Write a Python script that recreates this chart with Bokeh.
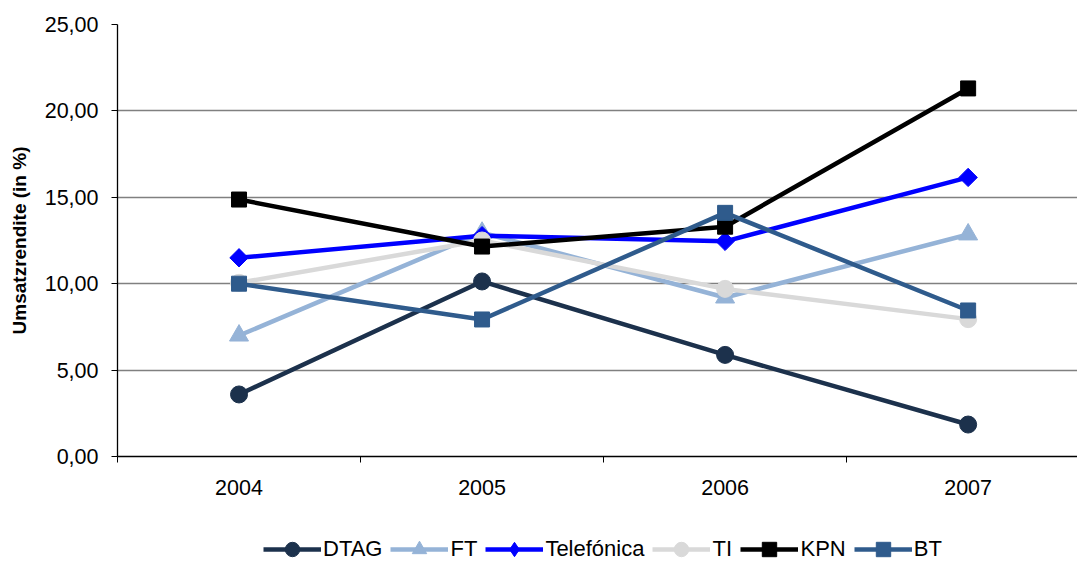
from bokeh.plotting import figure
from bokeh.models import Range1d, FixedTicker, Legend, LegendItem
from bokeh.layouts import column
from bokeh.embed import file_html
from bokeh.resources import INLINE
import math

years = [2004, 2005, 2006, 2007]
series_names = ["DTAG", "FT", "Telefónica", "TI", "KPN", "BT"]
dtag = [3.59, 10.13, 5.88, 1.85]
ft = [7.00, 12.95, 9.20, 12.85]
telefonica = [11.50, 12.78, 12.45, 16.15]
ti = [10.05, 12.50, 9.70, 7.95]
kpn = [14.87, 12.15, 13.30, 21.30]
bt = [10.00, 7.93, 14.10, 8.45]
y_ticks = [0, 5, 10, 15, 20, 25]
y_tick_labels = ["0,00", "5,00", "10,00", "15,00", "20,00", "25,00"]
y_title = "Umsatzrendite (in %)"

values = [dtag, ft, telefonica, ti, kpn, bt]
colors = ["#1c314c", "#95b3d7", "#0000ff", "#d9d9d9", "#000000", "#2f5b8c"]
markers = ["circle", "triangle", "square", "circle", "square", "square"]
legend_markers = ["circle", "triangle", "diamond", "circle", "square", "square"]
angles = [0, 0, math.pi / 4, 0, 0, 0]
msizes = [17, 19, 13, 17, 15, 15]

FONT = "Liberation Sans"
TOP_H = 521
LEG_H = 561 - TOP_H
FRAME_LEFT = 117

p = figure(width=1077, height=TOP_H, output_backend="svg", toolbar_location=None,
           x_range=Range1d(2003.5, 2007.45), y_range=Range1d(0, 25),
           min_border_left=FRAME_LEFT, min_border_top=24, min_border_right=0,
           min_border_bottom=TOP_H - 456)
p.outline_line_color = None
p.background_fill_color = "white"
p.border_fill_color = "white"

# x axis
p.xaxis.ticker = FixedTicker(ticks=years, minor_ticks=[2003.5, 2004.5, 2005.5, 2006.5, 2007.5])
p.xaxis.major_tick_out = 0
p.xaxis.major_tick_in = 0
p.xaxis.minor_tick_out = 6
p.xaxis.minor_tick_in = 0
p.xaxis.minor_tick_line_color = "black"
p.xaxis.axis_line_color = "black"
p.xaxis.axis_line_width = 1.3
p.xaxis.major_label_standoff = 17
p.xaxis.major_label_text_font = FONT
p.xaxis.major_label_text_font_size = "21.5px"
p.xaxis.major_label_text_color = "black"
p.xgrid.grid_line_color = None

# y axis
p.yaxis.ticker = FixedTicker(ticks=y_ticks, minor_ticks=[])
p.yaxis.major_label_overrides = {t: l for t, l in zip(y_ticks, y_tick_labels)}
p.yaxis.major_tick_out = 6
p.yaxis.major_tick_in = 0
p.yaxis.major_tick_line_color = "black"
p.yaxis.axis_line_color = "black"
p.yaxis.axis_line_width = 1.3
p.yaxis.major_label_standoff = 13
p.yaxis.major_label_text_font = FONT
p.yaxis.major_label_text_font_size = "21.5px"
p.yaxis.major_label_text_color = "black"
p.yaxis.axis_label = y_title
p.yaxis.axis_label_text_font = FONT
p.yaxis.axis_label_text_font_style = "bold"
p.yaxis.axis_label_text_font_size = "19px"
p.yaxis.axis_label_text_color = "black"
p.yaxis.axis_label_standoff = 12
p.ygrid.grid_line_color = "#808080"
p.ygrid.grid_line_width = 1.3

for name, vals, c, m, a, s in zip(series_names, values, colors, markers, angles, msizes):
    p.line(years, vals, line_color=c, line_width=4.5)
    p.scatter(years, vals, marker=m, angle=a, size=s, fill_color=c, line_color=c)

# legend strip (separate figure below; its renderers lie outside its visible range)
pl = figure(width=1077, height=LEG_H, output_backend="svg", toolbar_location=None,
            x_axis_location=None, y_axis_location=None,
            x_range=Range1d(0, 1), y_range=Range1d(100, 101),
            min_border=0)
pl.outline_line_color = None
pl.grid.visible = False
items = []
for name, vals, c, m in zip(series_names, values, colors, legend_markers):
    r1 = pl.line(years, vals, line_color=c, line_width=4.5)
    r2 = pl.scatter(years, vals, marker=m, fill_color=c, line_color=c)
    items.append(LegendItem(label=name, renderers=[r1, r2]))

legend = Legend(items=items, orientation="horizontal", location=(263 - FRAME_LEFT, -6),
                glyph_width=58, glyph_height=36, label_standoff=2, spacing=8,
                padding=0, margin=0, border_line_color=None,
                background_fill_alpha=0,
                label_text_font=FONT, label_text_font_size="22px", label_text_color="black")
pl.add_layout(legend, "center")

layout = column(p, pl, spacing=0)
open("out.html", "w").write(file_html(layout, INLINE))
